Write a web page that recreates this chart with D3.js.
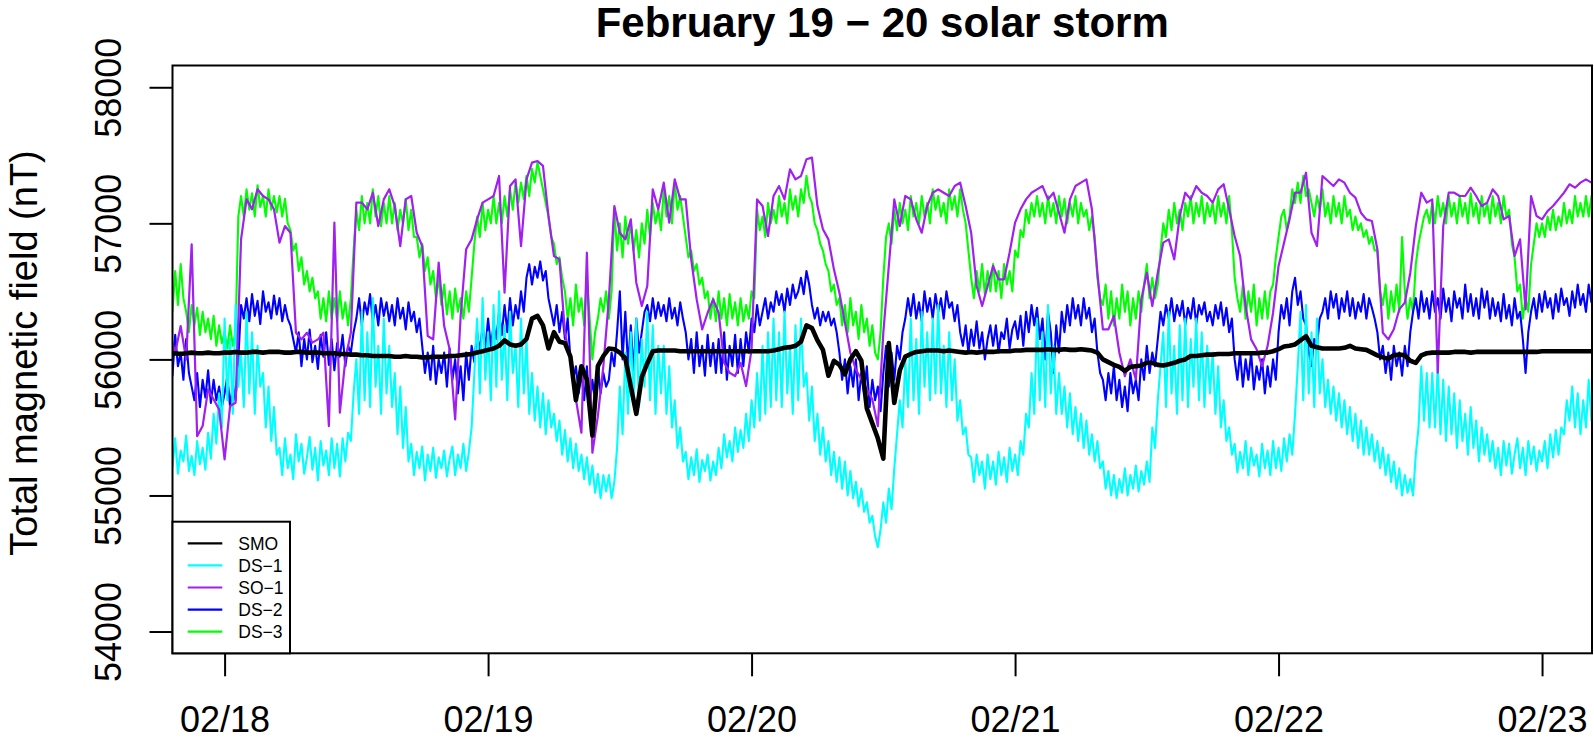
<!DOCTYPE html>
<html><head><meta charset="utf-8">
<script src="https://cdn.jsdelivr.net/npm/d3@7"></script>
<style>
html,body{margin:0;padding:0;background:#fff;}
svg{display:block;font-family:"Liberation Sans",Arial,Helvetica,sans-serif;}
</style></head>
<body>
<svg id="chart" width="1594" height="745"></svg>
<script>
// ---------- data ----------
const title = "February 19 \u2212 20 solar storm";
const yTitle = "Total magnetic field (nT)";
const startHour = -5;        // hours relative to 02/18 00:00
const stepCoarse = 0.5;      // SMO, SO-1 sampling (hours)
const stepFine = 0.25;       // DS-1, DS-2, DS-3 sampling (hours)
const dayTicks = [0, 24, 48, 72, 96, 120];
const dayLabels = ["02/18", "02/19", "02/20", "02/21", "02/22", "02/23"];
const yTicks = [54000, 55000, 56000, 57000, 58000];
const yLimits = [54000, 58000];
const seriesNames = ["SMO", "DS-1", "SO-1", "DS-2", "DS-3"];
const seriesColors = ["#000000", "#00FFFF", "#A020F0", "#0000FF", "#00FF00"];

const smo = [
56040,56045,56040,56045,56050,56045,56045,56050,56045,56045,
56050,56050,56055,56050,56050,56055,56055,56050,56055,56055,
56055,56050,56050,56055,56055,56050,56050,56050,56045,56045,
56045,56040,56040,56035,56035,56030,56030,56025,56025,56025,
56025,56020,56020,56025,56020,56020,56015,56015,56020,56020,
56020,56025,56025,56030,56035,56040,56050,56060,56070,56080,
56100,56140,56110,56100,56110,56150,56300,56320,56250,56080,
56200,56130,56120,56020,55700,55950,55850,55440,55950,56025,
56080,56075,56050,56010,55800,55600,55870,55970,56060,56065,
56065,56065,56065,56060,56060,56060,56060,56060,56060,56060,
56060,56060,56060,56060,56060,56060,56060,56060,56060,56060,
56065,56075,56085,56090,56100,56130,56250,56230,56140,56070,
55880,55990,55960,55890,56000,56060,55990,55640,55530,55420,
55270,56120,55680,55920,56020,56040,56055,56060,56065,56065,
56065,56060,56065,56060,56055,56050,56055,56050,56055,56055,
56055,56060,56060,56060,56065,56065,56070,56070,56070,56070,
56075,56070,56070,56075,56070,56070,56075,56070,56065,56050,
56000,55980,55960,55945,55915,55945,55950,55955,55975,55975,
55960,55955,55965,55975,55990,56000,56025,56025,56030,56035,
56035,56040,56040,56040,56045,56045,56045,56045,56045,56050,
56050,56060,56075,56095,56100,56110,56140,56170,56100,56090,
56080,56080,56080,56080,56085,56100,56080,56075,56070,56050,
56030,56015,56005,56030,56035,56030,55990,55975,56030,56045,
56050,56050,56050,56050,56055,56055,56055,56050,56055,56055,
56055,56055,56055,56055,56055,56055,56055,56055,56055,56055,
56060,56060,56060,56060,56060,56060,56060,56060,56060,56060,
56060];

const so1 = [
56196,56049,56245,56000,56846,55436,55510,55779,55706,55632,
55265,55657,55681,56882,57176,57103,57250,57201,57176,57103,
56858,56980,56931,56196,56147,56196,56123,56147,56196,55510,
57005,55608,56000,56196,57152,57152,57103,57225,56980,57176,
57250,57127,56833,57176,57201,56931,56833,56172,56147,56711,
56245,56074,55559,56319,56809,56882,57029,57152,57176,57201,
57348,56490,57274,57323,56833,57323,57446,57458,57422,57054,
56760,56735,56196,56000,55706,55461,56784,55314,55583,55951,
56441,57127,56931,56882,57029,56564,56392,56539,57250,57103,
57299,57005,57323,57176,57176,56735,56441,56221,56343,56441,
56343,55975,55902,55877,55975,55804,56074,57176,57127,56907,
57201,57274,57176,57397,57323,57348,57471,57483,57127,56956,
56882,56662,56490,56270,56049,55926,55853,55779,55706,55510,
56196,56686,57176,56980,57201,57176,57029,56931,57127,57225,
57250,57225,57201,57274,57299,57127,56931,56539,56392,56539,
56686,56588,56588,56784,57005,57103,57176,57225,57250,57274,
57176,57225,57078,56931,57176,57274,57299,57323,57103,56637,
56221,56221,56319,56049,55877,56000,55853,56441,56637,56392,
56637,56858,56882,56735,57054,57225,57176,57274,57225,57201,
57152,57250,57287,57103,56907,56760,56392,56147,56074,55951,
56098,56343,56686,56858,57029,57225,57225,57372,56931,56833,
57348,57311,57274,57323,57299,57225,57189,57078,57029,57017,
56809,56196,56147,56221,56368,56417,56637,56980,57225,57152,
57176,55902,56980,57225,57225,57201,57201,57262,57201,57127,
57152,57250,57201,57029,57054,56760,56882,56368,57201,57054,
57029,57090,57127,57176,57225,57287,57262,57299,57323,57299,
57311];

const ds1 = [
55380,55210,55420,55160,55330,55250,55440,55180,55290,55150,55400,55230,55350,55190,55460,55270,55600,55380,55750,55500,
56300,55700,56150,55600,56400,55800,56050,55650,56350,55750,56200,55600,56100,55800,55900,55500,55800,55400,55650,55300,
55350,55150,55420,55200,55300,55120,55450,55250,55380,55160,55280,55430,55190,55350,55110,55400,55220,55330,55150,55420,
55200,55380,55140,55420,55250,55460,55400,55750,56000,55600,56350,55700,56200,55650,56450,55800,56100,55600,56300,55750,
56100,55650,55900,55450,55800,55350,55650,55250,55380,55150,55320,55200,55360,55110,55300,55180,55350,55130,55280,55200,
55330,55140,55270,55360,55150,55300,55200,55380,55180,55320,55500,55900,56300,55750,56450,55850,56200,55700,56400,55800,
56500,55850,56250,55700,56350,55900,56100,55650,56300,55750,56150,55600,55900,55550,55800,55500,55750,55450,55700,55500,
55600,55400,55550,55300,55480,55250,55420,55200,55380,55180,55300,55120,55280,55080,55220,55020,55160,54980,55150,55030,
55150,54980,55100,55350,55800,55450,56050,55600,56200,55700,56300,55650,56150,55800,56350,55700,56250,55600,56100,55750,
56100,55600,55950,55500,55700,55350,55500,55250,55320,55120,55280,55150,55340,55100,55260,55180,55300,55110,55250,55150,
55350,55200,55450,55280,55400,55250,55500,55320,55480,55350,55600,55400,55700,55500,55900,55550,56100,55600,56200,55650,
56300,55700,56200,55650,56350,55750,56100,55600,56250,55700,56300,55800,55900,55550,55800,55400,55600,55300,55500,55250,
55400,55150,55320,55100,55280,55050,55250,55000,55180,54980,55100,54920,55050,54880,54950,54800,54850,54700,54620,54750,
54950,54800,55050,54900,55200,55450,55700,55500,56000,55650,56300,55700,56150,55600,56350,55800,56200,55700,56300,55750,
56400,55750,56100,55650,56200,55700,56000,55550,55700,55450,55500,55300,55280,55100,55300,55150,55250,55050,55300,55120,
55250,55080,55320,55150,55280,55100,55350,55180,55300,55150,55400,55300,55600,55500,55900,55600,56300,55700,56200,55650,
56400,55750,56100,55600,55900,55600,55800,55500,55750,55450,55650,55400,55600,55350,55550,55300,55450,55250,55400,55200,
55250,55050,55180,55000,55150,54980,55120,55020,55200,55000,55150,55050,55220,55030,55180,55080,55250,55100,55500,55350,
55700,55950,56200,55650,56350,55750,56100,55600,56250,55700,56300,55650,56150,55800,56300,55700,56200,55650,56100,55750,
56050,55600,55950,55500,55700,55400,55500,55300,55380,55170,55320,55200,55400,55150,55350,55220,55300,55140,55380,55200,
55330,55150,55400,55200,55350,55180,55420,55250,55450,55300,55600,55950,56350,55700,56400,55750,56200,55650,56300,55750,
56000,55650,55850,55600,55800,55550,55750,55500,55700,55450,55650,55400,55600,55350,55550,55300,55500,55300,55450,55250,
55400,55200,55350,55150,55300,55100,55250,55050,55200,55000,55150,55020,55120,55000,55300,55500,55950,55550,55900,55500,
55900,55500,55950,55450,55850,55400,55800,55450,55750,55350,55700,55400,55600,55300,55650,55350,55550,55250,55500,55300,
55450,55250,55400,55200,55350,55150,55400,55220,55380,55160,55300,55420,55200,55350,55150,55400,55230,55360,55180,55330,
55250,55400,55200,55450,55280,55480,55300,55500,55450,55700,55550,55800,55500,55750,55450,55700,55500,55850,55550,55750,
55600];

const ds2 = [
56100,55880,56180,55950,56050,55850,56150,55900,55800,55700,55900,55650,55850,55720,55920,55680,55850,55700,55800,55650,
55750,55880,55650,55820,55700,56000,56400,56300,56450,56280,56480,56320,56430,56260,56500,56350,56420,56300,56470,56330,
56450,56280,56400,56300,56250,56150,56050,56200,55950,56150,56000,56220,55980,56100,55930,56180,56020,56200,55960,56150,
55920,56120,56020,56180,55950,56100,56050,56200,56300,56450,56250,56420,56330,56480,56280,56400,56250,56450,56320,56420,
56280,56400,56250,56450,56300,56380,56220,56420,56280,56350,56200,56300,56100,55900,56050,55850,56100,55820,56000,55900,
56050,55800,56080,55850,56000,55750,55950,55700,56050,55850,56100,55980,56200,56050,56250,56080,56300,56100,56250,56150,
56350,56180,56400,56200,56450,56250,56400,56300,56500,56350,56600,56700,56550,56680,56600,56720,56580,56650,56450,56350,
56250,56400,56200,56350,56150,56300,56000,55850,55950,55750,55900,55700,55950,55650,55850,55700,55950,55750,55900,55800,
55850,56050,55950,56200,56500,56000,56350,55950,56250,55900,56300,56050,56200,56350,56400,56280,56450,56300,56420,56320,
56400,56280,56450,56300,56380,56250,56420,56300,56200,56000,56150,55900,56200,55950,56100,55880,56180,55950,56120,55900,
56150,55900,56200,55850,56100,55950,56180,55900,56150,55950,56200,56050,56300,56200,56400,56250,56350,56450,56300,56420,
56350,56500,56400,56480,56350,56520,56400,56550,56450,56500,56600,56480,56650,56550,56400,56300,56380,56250,56350,56280,
56350,56250,56300,56200,56050,55850,56000,55750,55950,55800,56000,55700,55900,55750,55950,55650,55850,55700,55800,55620,
55900,56100,55800,56050,55850,56100,56000,56200,56300,56450,56320,56480,56300,56420,56280,56500,56350,56450,56300,56480,
56350,56450,56300,56500,56380,56420,56280,56400,56200,56100,56250,56050,56220,56100,56280,56080,56200,56000,56150,56250,
56100,56250,56050,56200,56150,56300,56080,56220,56280,56150,56320,56100,56350,56200,56400,56250,56380,56150,56300,56000,
56350,56200,55900,56250,56050,56350,56200,56400,56250,56450,56300,56400,56250,56450,56300,56380,56200,56300,56050,55900,
55850,55700,55900,55750,55950,55700,55850,55650,55800,55620,55900,55750,55850,55700,56000,55850,56100,55900,56050,55950,
56150,56350,56250,56400,56300,56450,56280,56400,56320,56430,56250,56380,56300,56450,56260,56400,56330,56420,56280,56350,
56250,56400,56300,56420,56250,56380,56200,56300,56000,55850,56050,55800,56000,55850,56050,55780,55950,55850,56000,55750,
55950,55800,56000,55850,56200,56400,56300,56450,56250,56500,56600,56400,56500,56300,56250,56050,55950,56150,56100,56300,
56350,56450,56300,56500,56380,56480,56300,56450,56350,56500,56320,56450,56300,56420,56350,56480,56300,56450,56380,56300,
56200,56000,56100,55900,56050,55850,56100,55950,56050,55880,56100,55950,56200,56350,56450,56300,56500,56350,56450,56300,
56500,56350,56450,56300,56520,56350,56450,56280,56500,56380,56450,56300,56550,56350,56480,56320,56450,56300,56520,56380,
56500,56300,56450,56320,56420,56280,56480,56300,56400,56250,56450,56300,56350,56150,55900,56200,56350,56450,56300,56480,
56350,56500,56380,56450,56300,56480,56350,56520,56400,56450,56320,56500,56380,56550,56400,56480,56350,56550,56420,56500,
56450];

const ds3 = [
56550,56350,56650,56400,56700,56450,56350,56200,56400,56250,56380,56180,56350,56200,56300,56150,56320,56100,56250,56120,
56200,56080,56250,56100,56200,57050,57200,57050,57250,57100,57220,57050,57280,57120,57200,57050,57250,57100,57200,57080,
57200,57050,57180,57000,56950,56800,56850,56650,56750,56550,56650,56500,56600,56450,56500,56300,56450,56280,56500,56300,
56450,56280,56500,56300,56420,56250,56450,56800,57100,56950,57200,57000,57150,57000,57250,57050,57200,56980,57150,57000,
57200,57000,57150,56950,57100,57000,57180,56950,57100,56900,56900,56750,56850,56650,56750,56550,56650,56450,56600,56400,
56550,56330,56500,56300,56520,56350,56450,56300,56500,56350,56600,56850,57050,56900,57150,56950,57100,57000,57200,57000,
57150,57000,57200,57050,57250,57100,57300,57150,57300,57180,57350,57200,57400,57300,57450,57350,57250,57150,57050,56900,
56850,56700,56750,56600,56500,56300,56450,56250,56550,56350,56450,56250,56600,56300,56000,56200,56300,56450,56350,56500,
56300,56500,57100,56800,57000,56750,57050,56850,57000,56800,56950,56750,57000,56850,57100,56900,57150,57000,57100,56950,
57250,57050,57200,57000,57300,57100,57200,57050,56900,56750,56800,56650,56700,56550,56600,56450,56500,56300,56450,56280,
56500,56300,56450,56250,56480,56300,56420,56250,56450,56280,56400,56300,56500,56450,57100,56950,57050,56900,57150,57000,
57100,57000,57200,57050,57150,57000,57250,57100,57200,57050,57250,57150,57350,57200,57150,57000,56950,56850,56800,56700,
56650,56500,56550,56400,56450,56250,56400,56200,56450,56250,56350,56150,56400,56200,56300,56100,56250,56050,56000,56200,
56600,56900,57000,56850,57100,56950,57150,57000,57100,56950,57200,57050,57150,57000,57200,57050,57150,57000,57250,57100,
57200,57050,57150,57000,57250,57100,57200,57050,57250,57100,57000,56800,56600,56450,56650,56500,56700,56480,56650,56500,
56700,56500,56650,56450,56700,56550,56650,56500,56800,56750,56950,56900,57100,57000,57150,57050,57200,57050,57150,57000,
57200,57050,57150,57000,57200,57050,57180,57000,57150,57050,57200,57000,57150,57050,57100,56950,57050,56900,56600,56450,
56400,56550,56300,56500,56250,56450,56300,56550,56350,56500,56250,56450,56300,56500,56350,56550,56700,56450,56600,56450,
56550,56800,57000,56900,57100,56950,57150,57000,57100,56950,57150,57050,57200,57000,57150,57050,57200,57000,57150,57050,
57150,57000,57200,57050,57150,57000,57200,56950,56600,56450,56350,56550,56300,56500,56350,56550,56250,56450,56300,56500,
56300,56500,56550,56750,56900,57050,57100,56950,57050,57250,57150,57300,57150,57350,57200,57250,57150,57050,57200,57100,
57250,57050,57150,57000,57200,57050,57150,57000,57200,57050,57100,56950,57050,56950,57000,56900,56950,56850,56900,56800,
56800,56500,56400,56550,56300,56500,56350,56550,56350,56900,56500,56300,56450,56350,56700,56850,56950,57050,57100,57000,
57150,57000,57200,57050,57150,57000,57200,57050,57150,57000,57200,57050,57150,57000,57220,57050,57150,57000,57200,57050,
57150,57000,57200,57050,57150,57000,57200,57050,57100,56850,56750,56500,56550,56300,56450,56350,56700,56850,57000,56900,
57000,56900,57050,56950,57100,56950,57050,56980,57150,57000,57100,57000,57200,57050,57150,57050,57200,57050,57200,57100,
57150];

// ---------- layout ----------
const plot = {left: 172.5, top: 65.5, right: 1592, bottom: 653.3};
const svg = d3.select("#chart");

const x = d3.scaleLinear().domain([-4.745, 124.55]).range([plot.left, plot.right]);
const yPad = (yLimits[1] - yLimits[0]) * 0.04;
const y = d3.scaleLinear().domain([yLimits[0] - yPad, yLimits[1] + yPad]).range([plot.bottom, plot.top]);

svg.append("defs").append("clipPath").attr("id", "clip")
  .append("rect").attr("x", plot.left).attr("y", plot.top)
  .attr("width", plot.right - plot.left).attr("height", plot.bottom - plot.top);

const lineFor = step => d3.line()
  .x((d, i) => x(startHour + i * step))
  .y(d => y(d));

const g = svg.append("g").attr("clip-path", "url(#clip)");
const drawOrder = [
  {data: ds3, color: seriesColors[4], w: 2.1, step: stepFine},
  {data: ds2, color: seriesColors[3], w: 2.1, step: stepFine},
  {data: ds1, color: seriesColors[1], w: 2.1, step: stepFine},
  {data: so1, color: seriesColors[2], w: 2.2, step: stepCoarse},
  {data: smo, color: seriesColors[0], w: 4.6, step: stepCoarse}
];
drawOrder.forEach(s => {
  g.append("path").datum(s.data)
    .attr("fill", "none").attr("stroke", s.color)
    .attr("stroke-width", s.w).attr("stroke-linejoin", "round")
    .attr("d", lineFor(s.step));
});

// frame
svg.append("rect").attr("x", plot.left).attr("y", plot.top)
  .attr("width", plot.right - plot.left).attr("height", plot.bottom - plot.top)
  .attr("fill", "none").attr("stroke", "#000").attr("stroke-width", 2);

// x axis
const xAxis = d3.axisBottom(x).tickValues(dayTicks)
  .tickFormat((d, i) => dayLabels[i]).tickSize(23).tickPadding(30);
const gx = svg.append("g").attr("transform", `translate(0,${plot.bottom})`).call(xAxis);
gx.select(".domain").remove();
gx.selectAll(".tick line").attr("stroke", "#000").attr("stroke-width", 2);
gx.selectAll(".tick text").attr("fill", "#000").style("font-size", "36px")
  .style("font-family", "'Liberation Sans',Arial,sans-serif");

// y axis
const yAxis = d3.axisLeft(y).tickValues(yTicks).tickFormat(d3.format("d")).tickSize(23);
const gy = svg.append("g").attr("transform", `translate(${plot.left},0)`).call(yAxis);
gy.select(".domain").remove();
gy.selectAll(".tick line").attr("stroke", "#000").attr("stroke-width", 2);
gy.selectAll(".tick text").attr("fill", "#000")
  .attr("x", 0).attr("dy", null).attr("y", 0)
  .attr("text-anchor", "middle")
  .attr("transform", "translate(-52,0) rotate(-90)")
  .style("font-size", "36px")
  .style("font-family", "'Liberation Sans',Arial,sans-serif");

// titles
svg.append("text").attr("x", (plot.left + plot.right) / 2).attr("y", 37)
  .attr("text-anchor", "middle").style("font-weight", "bold").style("font-size", "42px")
  .text(title);
svg.append("text").attr("transform", `translate(36.5,353) rotate(-90)`)
  .attr("text-anchor", "middle").style("font-size", "38px").text(yTitle);

// legend
const lg = svg.append("g");
lg.append("rect").attr("x", plot.left).attr("y", 521.7)
  .attr("width", 117.5).attr("height", plot.bottom - 521.7)
  .attr("fill", "#fff").attr("stroke", "#000").attr("stroke-width", 2);
const rowY = d3.scaleLinear().domain([0, 4]).range([543.3, 631.7]);
seriesNames.forEach((n, i) => {
  lg.append("line").attr("x1", 187.7).attr("x2", 222.3)
    .attr("y1", rowY(i)).attr("y2", rowY(i))
    .attr("stroke", seriesColors[i]).attr("stroke-width", 2.2);
  lg.append("text").attr("x", 238.3).attr("y", rowY(i) + 6.2)
    .style("font-size", "17.5px").text(n.replace("-", "\u2212"));
});
</script>
</body></html>
